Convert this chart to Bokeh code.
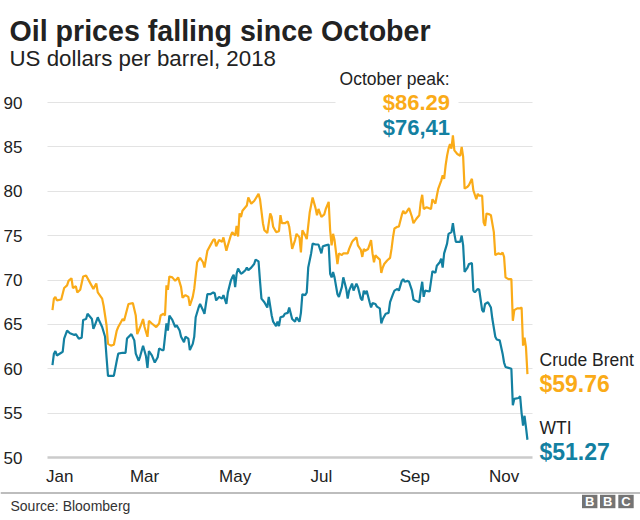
import pandas as pd
from bokeh.plotting import figure
from bokeh.models import (Range1d, FixedTicker, DatetimeTickFormatter, Label,
                          BoxAnnotation, ColumnDataSource, Grid, Span)
from bokeh.core.properties import value
from bokeh.embed import file_html
from bokeh.resources import INLINE

# ---------------- data ----------------
year_start = "2018-01-01"
# days after 1 Jan 2018
brent_days = [1, 2, 3, 4, 7, 9, 11, 12, 14, 15, 17, 18, 20, 22, 24, 26, 29, 31, 32, 35,
              36, 38, 39, 41, 43, 45, 46, 48, 49, 50, 53, 56, 58, 59, 61, 63, 64, 66, 67, 69,
              72, 74, 75, 77, 78, 79, 80, 81, 83, 85, 87, 89, 90, 92, 94, 95, 97, 98, 100, 102,
              104, 105, 107, 109, 111, 112, 113, 115, 117, 118, 120, 121, 123, 124, 126, 127, 128, 129, 130, 131,
              133, 134, 135, 137, 139, 142, 143, 145, 146, 148, 150, 151, 152, 154, 156, 157, 158, 160, 162, 163,
              165, 167, 168, 170, 171, 172, 174, 175, 177, 179, 181, 182, 183, 185, 187, 188, 190, 191, 192, 193,
              194, 196, 197, 199, 200, 203, 204, 206, 207, 209, 210, 212, 213, 214, 215, 217, 219, 220, 221, 222,
              223, 225, 226, 227, 228, 230, 232, 233, 234, 235, 237, 238, 240, 241, 242, 243, 245, 247, 248, 250,
              252, 253, 254, 255, 257, 260, 261, 263, 264, 265, 267, 268, 269, 270, 271, 272, 273, 274, 275, 276,
              278, 280, 281, 282, 283, 285, 286, 288, 289, 291, 292, 293, 295, 296, 297, 298, 300, 301, 303, 304,
              306, 308, 309, 310, 311, 313, 315, 316, 317, 319, 321, 322, 323, 324, 325, 326]
brent = [66.6, 67.9, 68.1, 67.7, 67.8, 69.1, 69.4, 69.9, 70.2, 69.1, 69.3, 68.6, 68.9, 70.4, 70.5, 69.9, 69.0, 69.6, 68.6, 67.9,
         67.1, 64.9, 62.8, 62.6, 62.7, 64.3, 64.7, 65.3, 65.6, 65.4, 67.3, 67.4, 66.0, 63.9, 64.7, 65.6, 64.7, 63.6, 65.4, 65.1,
         64.7, 65.1, 66.0, 66.2, 66.0, 69.4, 68.9, 70.4, 70.3, 69.9, 70.3, 69.2, 68.0, 68.3, 68.1, 67.1, 68.1, 69.0, 72.0, 72.5,
         72.0, 71.4, 73.3, 73.9, 74.5, 74.6, 73.8, 74.5, 74.3, 74.8, 73.3, 73.9, 75.0, 75.4, 75.0, 76.1, 74.9, 77.5, 77.1, 77.8,
         78.2, 78.4, 79.3, 78.6, 78.9, 79.7, 79.1, 76.4, 75.6, 75.3, 77.5, 77.1, 76.0, 75.4, 75.5, 77.3, 76.4, 76.4, 76.6, 76.0,
         73.5, 74.5, 75.2, 74.8, 73.1, 75.6, 75.0, 74.6, 77.6, 79.3, 78.1, 77.3, 78.0, 77.1, 77.4, 78.0, 78.8, 75.6, 73.9, 75.2,
         74.5, 71.8, 73.0, 72.8, 73.0, 73.0, 73.5, 74.3, 74.5, 74.8, 73.9, 73.4, 72.6, 73.5, 73.3, 73.5, 74.5, 73.0, 72.0, 72.8,
         72.6, 72.3, 70.8, 71.4, 71.8, 72.2, 72.5, 73.5, 74.8, 75.8, 76.0, 76.0, 77.3, 77.8, 77.5, 77.6, 78.1, 77.1, 76.4, 76.9,
         77.3, 78.8, 79.6, 78.0, 78.2, 78.0, 79.1, 78.6, 79.5, 80.3, 81.2, 81.8, 81.4, 82.9, 84.0, 84.8, 85.3, 84.8, 86.29, 84.6,
         84.2, 84.0, 85.0, 83.9, 80.3, 80.5, 80.7, 81.4, 80.1, 79.1, 79.7, 79.5, 79.5, 76.5, 76.1, 77.5, 77.4, 77.3, 75.4, 72.8,
         73.0, 72.9, 73.1, 72.6, 70.3, 70.1, 70.1, 65.4, 66.6, 66.8, 66.8, 66.9, 62.6, 63.5, 62.4, 59.4]

wti_days = [1, 2, 3, 4, 7, 8, 9, 11, 13, 16, 17, 19, 21, 22, 24, 25, 27, 28, 29, 30,
            32, 33, 35, 37, 38, 39, 42, 43, 45, 46, 49, 51, 52, 55, 57, 58, 60, 61, 63, 65,
            66, 67, 69, 71, 73, 74, 76, 77, 79, 80, 81, 83, 85, 86, 88, 89, 91, 92, 94, 95,
            97, 98, 99, 101, 102, 104, 105, 107, 109, 111, 112, 113, 115, 117, 118, 120, 121, 123, 124, 125,
            126, 127, 128, 130, 131, 133, 134, 135, 137, 139, 140, 142, 143, 144, 146, 148, 149, 151, 152, 154,
            155, 156, 157, 159, 160, 162, 163, 165, 167, 168, 170, 171, 172, 174, 175, 176, 178, 179, 181, 183,
            184, 185, 186, 188, 190, 191, 192, 193, 194, 196, 197, 199, 200, 202, 203, 204, 206, 207, 209, 210,
            212, 213, 214, 215, 216, 218, 219, 220, 222, 223, 225, 226, 227, 229, 231, 232, 234, 235, 237, 238,
            240, 241, 242, 244, 245, 247, 248, 249, 252, 253, 254, 255, 256, 259, 261, 263, 264, 266, 267, 268,
            269, 271, 272, 274, 275, 276, 277, 278, 280, 281, 282, 283, 285, 286, 288, 289, 290, 292, 293, 295,
            296, 297, 299, 301, 302, 304, 305, 307, 309, 310, 311, 313, 315, 316, 317, 320, 321, 322, 323, 324,
            325, 326]
wti = [60.4, 61.7, 62.0, 61.5, 61.8, 61.9, 63.4, 64.3, 64.0, 63.8, 63.9, 63.4, 63.5, 65.5, 65.6, 66.2, 65.8, 65.6, 64.5, 64.9,
       65.8, 65.4, 64.7, 63.6, 61.3, 59.2, 59.2, 59.2, 60.9, 61.7, 61.8, 61.8, 63.4, 63.9, 63.2, 61.7, 60.9, 61.4, 62.6, 61.4,
       60.1, 62.0, 61.5, 60.7, 61.3, 62.3, 62.1, 62.1, 65.1, 64.3, 66.0, 65.5, 64.7, 64.9, 64.3, 63.6, 63.0, 63.6, 63.4, 62.1,
       62.8, 63.6, 65.8, 66.9, 67.3, 66.6, 66.2, 68.4, 68.4, 68.6, 68.5, 67.7, 68.1, 67.9, 68.3, 67.3, 68.6, 69.9, 70.3, 70.6,
       69.2, 70.7, 71.3, 70.7, 70.8, 71.1, 71.4, 71.1, 71.4, 71.8, 72.3, 72.1, 69.9, 67.9, 67.5, 66.9, 68.1, 66.0, 65.3, 64.8,
       65.3, 64.8, 65.8, 65.9, 66.2, 66.3, 66.9, 65.6, 65.3, 65.8, 65.3, 66.3, 68.4, 68.3, 68.6, 71.4, 73.0, 74.1, 74.0, 74.0,
       73.5, 73.0, 73.8, 73.9, 74.0, 70.7, 70.3, 70.9, 70.3, 68.4, 68.1, 69.2, 70.3, 69.0, 67.9, 68.8, 69.6, 68.8, 69.6, 69.2,
       67.9, 67.7, 68.8, 68.4, 68.8, 67.5, 66.9, 67.4, 67.3, 67.0, 66.8, 65.1, 65.6, 66.2, 66.3, 67.5, 68.4, 68.8, 69.0, 68.8,
       69.9, 70.1, 69.8, 69.9, 69.8, 68.8, 67.8, 67.7, 67.5, 68.8, 69.8, 68.1, 68.8, 68.7, 71.0, 70.8, 71.6, 72.0, 72.4, 71.4,
       73.0, 74.1, 75.2, 75.4, 76.41, 75.2, 74.3, 74.3, 74.3, 75.0, 73.9, 70.9, 71.4, 71.8, 71.9, 68.8, 68.6, 69.0, 68.9, 66.6,
       66.4, 67.3, 67.5, 66.9, 65.6, 63.6, 63.3, 63.2, 61.7, 60.7, 60.2, 60.1, 60.0, 55.9, 56.6, 56.7, 56.9, 55.0, 53.6, 54.7,
       53.4, 52.0]

month_tick_dates = ["2018-01-07", "2018-03-06", "2018-05-07", "2018-07-05", "2018-09-07", "2018-11-07"]
y_ticks = [50, 55, 60, 65, 70, 75, 80, 85, 90]

title_text = "Oil prices falling since October"
subtitle_text = "US dollars per barrel, 2018"
peak_label = "October peak:"
brent_peak_text = "$86.29"
wti_peak_text = "$76,41"
brent_name = "Crude Brent"
brent_last_text = "$59.76"
wti_name = "WTI"
wti_last_text = "$51.27"
source_text = "Source: Bloomberg"
logo_letters = ["B", "B", "C"]

# ---------------- styling / layout ----------------
FONT = "Liberation Sans"
ORANGE = "#FAAB18"
TEAL = "#1380A1"
INK = "#222222"
W, H = 640, 520           # Bokeh's page template has no body margin
DAY_MS = 86400000.0
EPOCH = pd.Timestamp("1970-01-01")


def to_ms(ts):
    return (pd.Timestamp(ts) - EPOCH) / pd.Timedelta(milliseconds=1)


BASE_MS = to_ms(year_start)
# pixel geometry of the reference's plotting area
PX_JAN1, PX_PER_DAY = 50.5, 1.4615
GRID_L, GRID_R = 47, 532
PY_50, PY_90 = 457.0, 102.0
PAGE_L, PAGE_T = 0, 0
PAGE_R, PAGE_B = PAGE_L + W, PAGE_T + H


def xpage(px):
    return BASE_MS + (px - PX_JAN1) / PX_PER_DAY * DAY_MS


def ypage(py):
    return 50 + (PY_50 - py) * 40.0 / (PY_50 - PY_90)


base_ts = pd.Timestamp(year_start)
brent_src = ColumnDataSource(dict(date=[base_ts + pd.Timedelta(days=d) for d in brent_days], v=brent))
wti_src = ColumnDataSource(dict(date=[base_ts + pd.Timedelta(days=d) for d in wti_days], v=wti))

# the frame covers the whole canvas; axes draw their labels inward
p = figure(width=W, height=H, x_axis_type="datetime",
           x_range=Range1d(xpage(PAGE_L), xpage(PAGE_R)),
           y_range=Range1d(ypage(PAGE_B), ypage(PAGE_T)),
           output_backend="svg", toolbar_location=None,
           min_border_left=0, min_border_right=0, min_border_top=0, min_border_bottom=0)
p.outline_line_color = None
p.background_fill_color = "white"
p.border_fill_color = "white"

grid_span = (xpage(GRID_L), xpage(GRID_R))
p.xgrid.visible = False
p.ygrid.ticker = FixedTicker(ticks=y_ticks[1:])
p.ygrid.grid_line_color = "#e3e3e3"
p.ygrid.grid_line_width = 1
p.ygrid.cross_bounds = grid_span
base_grid = Grid(dimension=1, ticker=FixedTicker(ticks=y_ticks[:1]), cross_bounds=grid_span,
                 grid_line_color="#cbcbcb", grid_line_width=2.5)
p.add_layout(base_grid)

p.yaxis.ticker = FixedTicker(ticks=y_ticks)
p.yaxis.axis_line_color = None
p.yaxis.major_tick_line_color = None
p.yaxis.minor_tick_line_color = None
p.yaxis.major_label_text_font = FONT
p.yaxis.major_label_text_font_size = "17px"
p.yaxis.major_label_text_color = INK
p.yaxis.major_label_standoff = -(28 - PAGE_L)

p.xaxis.ticker = FixedTicker(ticks=[to_ms(d) for d in month_tick_dates])
p.xaxis.formatter = DatetimeTickFormatter(milliseconds="%b", seconds="%b", minsec="%b", minutes="%b",
                                          hourmin="%b", hours="%b", days="%b", months="%b", years="%b")
p.xaxis.axis_line_color = None
p.xaxis.major_tick_line_color = None
p.xaxis.minor_tick_line_color = None
p.xaxis.major_label_text_font = FONT
p.xaxis.major_label_text_font_size = "17px"
p.xaxis.major_label_text_color = INK
p.xaxis.major_label_standoff = -(PAGE_B - 460)

# white box behind the "October peak" note, interrupting the 90 gridline
p.add_layout(BoxAnnotation(left=xpage(335), right=xpage(458), bottom=ypage(108), top=ypage(96),
                           fill_color="white", fill_alpha=1, line_color=None, level="underlay"))

p.line(x="date", y="v", source=brent_src, line_color=ORANGE, line_width=2.2)
p.line(x="date", y="v", source=wti_src, line_color=TEAL, line_width=2.2)


def lab(text, px, py, size, color=INK, bold=False, align="left"):
    p.add_layout(Label(x=xpage(px), y=ypage(py), x_units="data", y_units="data", text=text,
                       text_font=FONT, text_font_size=f"{size}px",
                       text_font_style="bold" if bold else "normal",
                       text_color=color, text_align=align, text_baseline="alphabetic"))


lab(title_text, 9, 30, 28.6, bold=True)
lab(subtitle_text, 9, 58, 22.3)
lab(peak_label, 449, 78.5, 17.5, align="right")
lab(brent_peak_text, 449.5, 102, 22, color=ORANGE, bold=True, align="right")
lab(wti_peak_text, 449.5, 127, 22, color=TEAL, bold=True, align="right")
lab(brent_name, 539, 359, 17.5)
lab(brent_last_text, 539, 383.5, 23, color=ORANGE, bold=True)
lab(wti_name, 539, 427.5, 17.5)
lab(wti_last_text, 539, 451.5, 23, color=TEAL, bold=True)

# ---------------- footer ----------------
p.add_layout(Span(location=ypage(492.5), dimension="width", line_color="#bdbdbd", line_width=2))
lab(source_text, 10, 505, 14, color="#333333")
logo_px = [589.2, 607.2, 625.5]
logo_x = [xpage(v) for v in logo_px]
p.rect(x=logo_x, y=[ypage(501)] * 3, width=15.4, height=13.4, width_units="screen", height_units="screen",
       fill_color="#747474", line_color=None)
p.text(x=logo_x, y=[ypage(501.3)] * 3, text=logo_letters, text_font=value(FONT),
       text_font_size="13px", text_font_style="bold", text_color="white",
       text_align="center", text_baseline="middle")

open("out.html", "w").write(file_html(p, INLINE))
